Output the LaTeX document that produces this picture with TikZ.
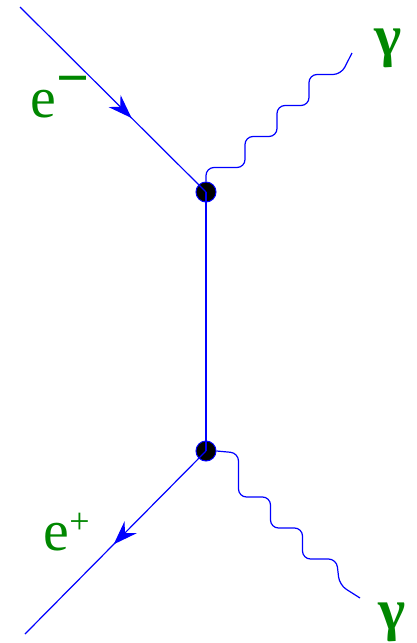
\documentclass[tikz,border=0pt]{standalone}
\usepackage{fontspec}
\setmainfont{Liberation Serif}
\usetikzlibrary{arrows.meta, decorations.markings}
\definecolor{labelgreen}{RGB}{0,135,0}
\tikzstyle{vertex}=[circle, fill=black, draw=blue, line width=1pt, minimum size=20pt, inner sep=0pt]
\tikzstyle{photon}=[rounded corners=8pt]
\tikzstyle{particle}=[labelgreen, inner sep=0pt, font=\fontsize{58}{58}\selectfont]
\tikzset{fermion/.style={postaction={decorate}, decoration={markings,
    mark=at position #1 with {\arrow{Stealth[length=24pt, width=17pt, inset=8pt]}}}}}

\begin{document}
\begin{tikzpicture}[x=1pt, y=-1pt, blue, line width=1.2pt]
    \useasboundingbox (0,0) rectangle (416,643);
% Vertices
    \node[vertex] (top) at (206,192) {};
    \node[vertex] (bot) at (206,451) {};
% Free ends
    \coordinate (ein) at (20,7);
    \coordinate (eout) at (25,634);
    \coordinate (gup) at (352,53);
    \coordinate (gdown) at (360,598);
% Fermion lines
    \draw[fermion=0.6] (ein) -- (top.center);
    \draw (top.center) -- (bot.center);
    \draw[fermion=0.51] (bot.center) -- (eout);
% Photons
    \draw[photon] (top.north) -- ++(0,-14) -- ++(39,0)
        \foreach \i in {1,2,3} {-- ++(0,-31) -- ++(32,0)} -- (gup);
    \draw[photon] (bot.east) -- ++(22,2) -- ++(0,44)
        \foreach \i in {1,2} {-- ++(32,0) -- ++(0,31)} -- ++(34,0) -- ++(3,26) -- (gdown);
% Labels
    \node[particle, anchor=base west] (lem) at (30,117) {e\raisebox{20pt}{\bfseries −}};
    \node[particle, anchor=base west] (lep) at (43,550) {e\raisebox{17pt}{\fontsize{36}{36}\selectfont +}};
    \node[particle] (lgup) at (388,48) {\bfseries γ};
    \node[particle] (lgdown) at (392,622) {\bfseries γ};
\end{tikzpicture}
\end{document}
